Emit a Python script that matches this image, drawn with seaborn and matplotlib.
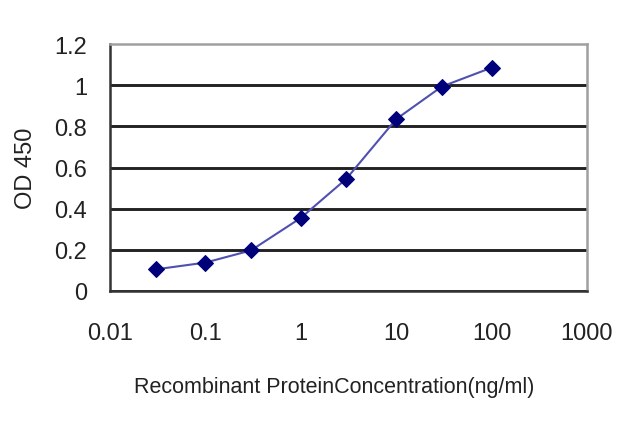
import numpy as np
import pandas as pd
import seaborn as sns
from matplotlib import pyplot as plt
from matplotlib import ticker as plticker

# data
concentration = [0.03, 0.1, 0.3, 1, 3, 10, 30, 100]
od_450 = [0.105, 0.138, 0.197, 0.355, 0.545, 0.835, 0.993, 1.085]

x_ticks = [0.01, 0.1, 1, 10, 100, 1000]
x_tick_labels = ['0.01', '0.1', '1', '10', '100', '1000']
y_ticks = [0, 0.2, 0.4, 0.6, 0.8, 1.0, 1.2]
y_tick_labels = ['0', '0.2', '0.4', '0.6', '0.8', '1', '1.2']

df = pd.DataFrame({'Concentration': concentration, 'OD': od_450})

sns.set_style('white')
plt.rcParams['font.family'] = ['Liberation Sans', 'DejaVu Sans']

fig = plt.figure(figsize=(6.4, 4.27), dpi=100)
ax = fig.add_axes([110 / 640, (427 - 292) / 427, 477 / 640, 247 / 427])

# curve with navy diamonds
sns.lineplot(
    data=df,
    x='Concentration',
    y='OD',
    ax=ax,
    color='#5050b0',
    linewidth=1.5,
    marker='D',
    markersize=8.5,
    markerfacecolor='#00007a',
    markeredgecolor='#00007a',
    zorder=3
)

ax.set_xscale('log')
ax.set_xlim(0.01, 1000)
ax.set_ylim(0, 1.2)
ax.set_xticks(x_ticks, x_tick_labels)
ax.xaxis.set_minor_locator(plticker.NullLocator())
ax.set_yticks(y_ticks, y_tick_labels)

# horizontal black gridlines, none on the top border
ax.yaxis.grid(True, color='#222222', linewidth=2.1)
ax.xaxis.grid(False)
ax.set_axisbelow(True)
ax.get_ygridlines()[-1].set_visible(False)

for side in ['left', 'bottom']:
    ax.spines[side].set_color('#333333')
    ax.spines[side].set_linewidth(1.8)
for side in ['top', 'right']:
    ax.spines[side].set_color('#a0a0a0')
    ax.spines[side].set_linewidth(1.8)

ax.tick_params(axis='x', direction='in', length=8, width=1.6,
               color='#333333', pad=22, labelsize=17, labelcolor='#222222')
ax.tick_params(axis='y', length=0, pad=16.5, labelsize=17,
               labelcolor='#222222')

ax.set_xlabel('Recombinant ProteinConcentration(ng/ml)', fontsize=15.5,
              color='#222222')
ax.set_ylabel('OD 450', fontsize=17, color='#222222')
ax.xaxis.set_label_coords(0.4706, -0.346)
ax.yaxis.set_label_coords(-0.152, 0.5)

fig.savefig('out.png', dpi=100)
